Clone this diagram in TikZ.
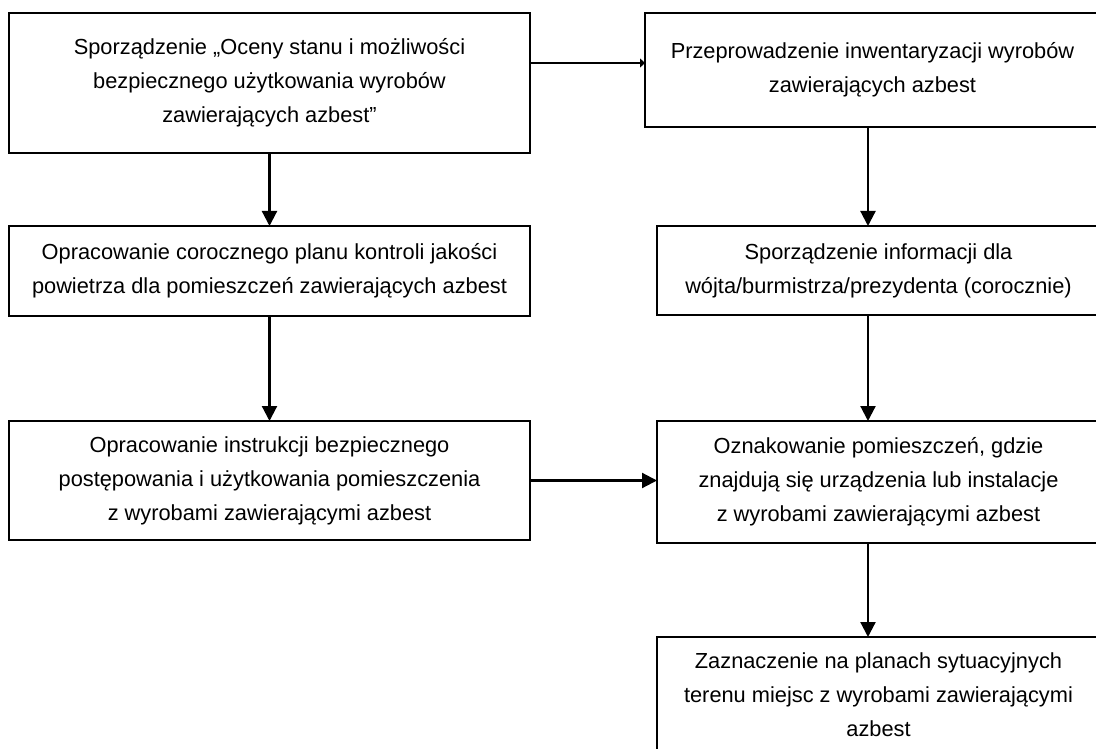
\documentclass[tikz,border=0pt]{standalone}
\usepackage{fontspec}
\setmainfont{Liberation Sans}
\usetikzlibrary{positioning}
\usetikzlibrary{arrows.meta}

\tikzset{
  box/.style={draw, rectangle, line width=2.2pt, align=center, inner sep=0pt, outer sep=0pt,
    font=\fontsize{21.8}{34}\selectfont},
  link/.style={line width=2.2pt},
  >={Triangle[length=15pt,width=15pt]}
}

\begin{document}
\begin{tikzpicture}[x=1pt,y=1pt]
			\useasboundingbox (0,0) rectangle (1096,-749);
			
			% lewa kolumna
			\node[box, minimum width=521pt, minimum height=140pt] (ocena) at (269.5,-83) {Sporządzenie „Oceny stanu i możliwości\\ bezpiecznego użytkowania wyrobów\\ zawierających azbest”};
			\node[box, minimum width=521pt, minimum height=90pt] (plan) [below = 73pt of ocena] {Opracowanie corocznego planu kontroli jakości\\ powietrza dla pomieszczeń zawierających azbest};
			\node[box, minimum width=521pt, minimum height=119pt] (instr) [below = 105pt of plan] {Opracowanie instrukcji bezpiecznego\\ postępowania i użytkowania pomieszczenia\\ z wyrobami zawierającymi azbest};
			
			% prawa kolumna
			\node[box, minimum width=455pt, minimum height=114pt] (inwent) at (872.5,-70) {Przeprowadzenie inwentaryzacji wyrobów\\ zawierających azbest};
			\node[box, minimum width=443pt, minimum height=89pt] (info) at (878.5,-270.5) {Sporządzenie informacji dla\\ wójta/burmistrza/prezydenta (corocznie)};
			\node[box, minimum width=443pt, minimum height=122pt] (oznak) [below = 106pt of info] {Oznakowanie pomieszczeń, gdzie\\ znajdują się urządzenia lub instalacje\\ z wyrobami zawierającymi azbest};
			\node[box, minimum width=443pt, minimum height=115pt] (zazn) [below = 94pt of oznak] {Zaznaczenie na planach sytuacyjnych\\ terenu miejsc z wyrobami zawierającymi\\ azbest};
			
			\draw[link, -{Triangle[length=5pt,width=9pt]}] ([yshift=20pt]ocena.east) -- ([yshift=20pt]ocena.east -| inwent.west);
			\draw[link, ->] (ocena) -- (plan);
			\draw[link, ->] (plan) -- (instr);
			\draw[link, ->] (instr.east) -- (instr.east -| oznak.west);
			\draw[link, ->] ([xshift=-4.5pt]inwent.south) -- ([xshift=-10.5pt]info.north);
			\draw[link, ->] ([xshift=-10.5pt]info.south) -- ([xshift=-10.5pt]oznak.north);
			\draw[link, ->] ([xshift=-10.5pt]oznak.south) -- ([xshift=-10.5pt]zazn.north);
\end{tikzpicture}
\end{document}
